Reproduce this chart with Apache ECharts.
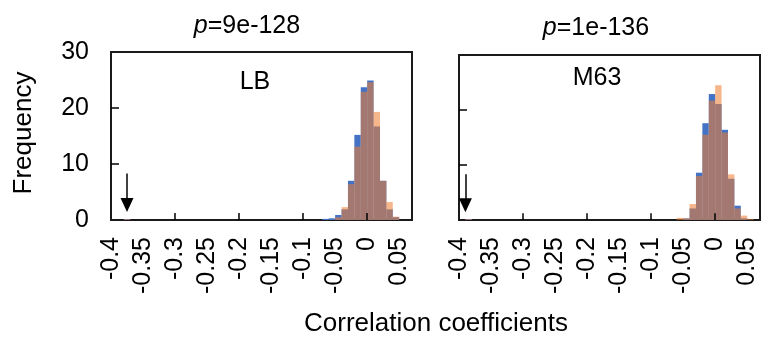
<!DOCTYPE html>
<html>
<head>
<meta charset="utf-8">
<title>Correlation coefficient histograms</title>
<script src="https://cdn.jsdelivr.net/npm/echarts@6/dist/echarts.min.js"></script>
<style>
  html, body { margin: 0; padding: 0; background: #fff; }
  #chart { width: 762px; height: 340px; }
</style>
</head>
<body>
<div id="chart"></div>
<script>
// Histogram bins are 0.01 wide; each array holds the left edge of a bin.
const BIN_WIDTH = 0.01;

// LB panel
const lbBins   = [-0.38, -0.07, -0.06, -0.05, -0.04, -0.03, -0.02, -0.01, 0, 0.01, 0.02, 0.03, 0.04];
const lbBlue   = [0.15, 0.2, 0.3, 0.9, 1.9, 7.0, 15.2, 23.7, 24.9, 16.7, 7.0, 1.9, 0.5];
const lbOrange = [0.15, 0, 0, 0.5, 2.3, 6.4, 13.1, 22.9, 24.6, 19.3, 7.0, 3.2, 0.6];

// M63 panel
const m63Bins   = [-0.39, -0.06, -0.05, -0.04, -0.03, -0.02, -0.01, 0, 0.01, 0.02, 0.03, 0.04, 0.05];
const m63Blue   = [0.15, 0, 0.3, 2.1, 8.6, 17.6, 22.9, 21.1, 16.4, 7.5, 2.6, 0.3, 0];
const m63Orange = [0.15, 0.4, 0.3, 2.9, 8.0, 15.5, 21.7, 24.5, 15.9, 8.3, 2.1, 0.8, 0.2];

// Axis ticks and labels
const xLabelValues = [-0.4, -0.35, -0.3, -0.25, -0.2, -0.15, -0.1, -0.05, 0, 0.05];
const xTickValues  = [-0.3, -0.2, -0.1, 0];
const yTickValues  = [10, 20];

// Panel captions and arrows marking the outlier bin
const panelNames  = ['LB', 'M63'];
const panelPvals  = ['9e-128', '1e-136'];
const arrowX      = [-0.375, -0.39];

const FONT = '"Liberation Sans", Arial, sans-serif';
const BLUE = '#4472C4';
const ORANGE = 'rgba(237,125,49,0.56)';

function pairs(bins, vals) {
  return bins.map((b, i) => [b, vals[i]]);
}

function renderBin(params, api) {
  const x0 = api.value(0);
  const h = api.value(1);
  if (!h) return null;
  const p0 = api.coord([x0, 0]);
  const p1 = api.coord([x0 + BIN_WIDTH, h]);
  return {
    type: 'rect',
    shape: { x: p0[0], y: p1[1], width: p1[0] - p0[0], height: p0[1] - p1[1] },
    style: { fill: api.visual('color') }
  };
}

function histSeries(idx, data, color, z) {
  return {
    type: 'custom',
    xAxisIndex: idx,
    yAxisIndex: idx,
    renderItem: renderBin,
    itemStyle: { color: color },
    encode: { x: 0, y: 1 },
    data: data,
    z: z,
    silent: true
  };
}

// Tick marks drawn as short segments in data space so they sit inside the frame
function tickSeries(idx) {
  const segs = [];
  xTickValues.forEach(v => segs.push([{ coord: [v, 0] }, { coord: [v, 1.25] }]));
  yTickValues.forEach(v => segs.push([{ coord: [-0.4, v] }, { coord: [-0.4 + 0.0125, v] }]));
  return {
    type: 'line',
    xAxisIndex: idx,
    yAxisIndex: idx,
    data: [],
    silent: true,
    z: 9,
    markLine: {
      silent: true,
      symbol: ['none', 'none'],
      label: { show: false },
      lineStyle: { color: '#000', width: 1.5, type: 'solid' },
      data: segs
    }
  };
}

function arrowSeries(idx, x) {
  return {
    type: 'line',
    xAxisIndex: idx,
    yAxisIndex: idx,
    data: [],
    silent: true,
    z: 10,
    markLine: {
      silent: true,
      symbol: ['none', 'triangle'],
      symbolSize: [13, 14],
      label: { show: false },
      lineStyle: { color: '#000', width: 1.5, type: 'solid' },
      data: [[{ coord: [x, 8.3] }, { coord: [x, 2.7] }]]
    }
  };
}

const grids = [
  { left: 111, top: 52, width: 301, height: 168 },
  { left: 459, top: 55, width: 301, height: 165 }
];

function xAxis(idx) {
  return {
    type: 'value',
    gridIndex: idx,
    min: -0.4,
    max: 0.07,
    axisLine: { show: false },
    splitLine: { show: false },
    axisTick: { show: false },
    axisLabel: {
      show: true,
      customValues: xLabelValues,
      rotate: 90,
      margin: 17,
      color: '#000',
      fontSize: 25,
      fontFamily: FONT,
      formatter: v => String(v)
    }
  };
}

function yAxis(idx) {
  return {
    type: 'value',
    gridIndex: idx,
    min: 0,
    max: 30,
    interval: 10,
    axisLine: { show: false },
    splitLine: { show: false },
    axisTick: { show: false },
    axisLabel: {
      show: idx === 0,
      margin: 22,
      color: '#000',
      fontSize: 25,
      fontFamily: FONT
    }
  };
}

const chart = echarts.init(document.getElementById('chart'), null, { renderer: 'canvas' });

const textStyleBase = { fill: '#000', font: '25px ' + FONT, align: 'center', verticalAlign: 'middle' };
const pRich = { i: { fontStyle: 'italic', fontSize: 25, fontFamily: FONT } };

chart.setOption({
  animation: false,
  backgroundColor: '#fff',
  grid: grids.map(g => Object.assign({ show: true, borderColor: '#1a1a1a', borderWidth: 2, backgroundColor: 'transparent' }, g)),
  xAxis: [xAxis(0), xAxis(1)],
  yAxis: [yAxis(0), yAxis(1)],
  series: [
    histSeries(0, pairs(lbBins, lbBlue), BLUE, 2),
    histSeries(0, pairs(lbBins, lbOrange), ORANGE, 3),
    histSeries(1, pairs(m63Bins, m63Blue), BLUE, 2),
    histSeries(1, pairs(m63Bins, m63Orange), ORANGE, 3),
    tickSeries(0),
    tickSeries(1),
    arrowSeries(0, arrowX[0]),
    arrowSeries(1, arrowX[1])
  ],
  graphic: [
    { type: 'text', x: 247, y: 26, style: Object.assign({}, textStyleBase, { text: '{i|p}=' + panelPvals[0], rich: pRich }) },
    { type: 'text', x: 596, y: 28, style: Object.assign({}, textStyleBase, { text: '{i|p}=' + panelPvals[1], rich: pRich }) },
    { type: 'text', x: 255, y: 82, style: Object.assign({}, textStyleBase, { text: panelNames[0] }) },
    { type: 'text', x: 597, y: 78, style: Object.assign({}, textStyleBase, { text: panelNames[1] }) },
    { type: 'text', x: 24, y: 133, rotation: Math.PI / 2, style: Object.assign({}, textStyleBase, { font: '26px ' + FONT, text: 'Frequency' }) },
    { type: 'text', x: 436, y: 324, style: Object.assign({}, textStyleBase, { font: '26px ' + FONT, text: 'Correlation coefficients' }) }
  ]
});
</script>
</body>
</html>
